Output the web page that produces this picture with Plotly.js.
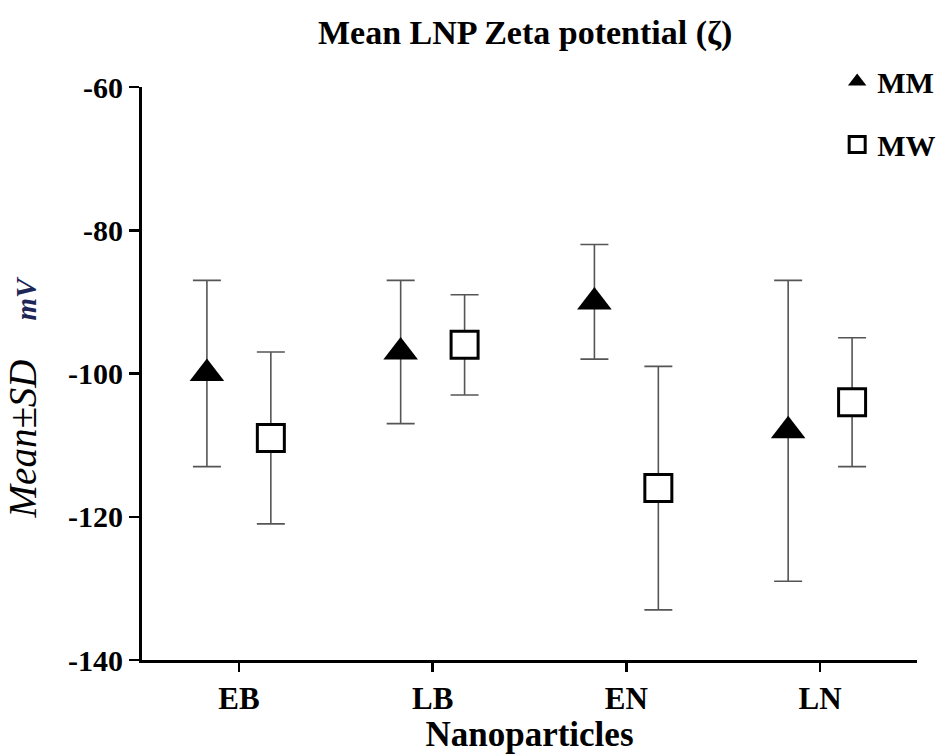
<!DOCTYPE html>
<html>
<head>
<meta charset="utf-8">
<script src="https://cdn.plot.ly/plotly-3.0.1.min.js"></script>
<style>html,body{margin:0;padding:0;background:#fff;}#chart{width:948px;height:754px;}</style>
</head>
<body>
<div id="chart"></div>
<script>
const categories = ["EB", "LB", "EN", "LN"];
const mmMean = [-100, -97, -90, -108];
const mmSD = [13, 10, 8, 21];
const mwMean = [-109, -96, -116, -104];
const mwSD = [12, 7, 17, 9];
const yTicks = [-140, -120, -100, -80, -60];
const yTickText = ["-140", "-120", "-100", "-80", "-60"];

const font = "Liberation Serif, Times New Roman, serif";

const traces = [
  {
    type: "scatter", mode: "markers", name: "MM",
    x: categories, y: mmMean, offsetgroup: "MM", legendgroup: "MM",
    marker: {symbol: "triangle-up", size: 30, color: "#000", line: {width: 0}},
    error_y: {type: "data", array: mmSD, visible: true, color: "#555", thickness: 1.6, width: 14}
  },
  {
    type: "scatter", mode: "markers", name: "MW",
    x: categories, y: mwMean, offsetgroup: "MW", legendgroup: "MW",
    marker: {symbol: "square", size: 27, color: "#fff", line: {width: 3, color: "#000"}},
    error_y: {type: "data", array: mwSD, visible: true, color: "#555", thickness: 1.6, width: 14}
  }
];

const layout = {
  width: 948, height: 754,
  margin: {l: 142, r: 31, t: 87, b: 94, autoexpand: false},
  paper_bgcolor: "#fff", plot_bgcolor: "#fff",
  font: {family: font, color: "#000", size: 30},
  scattermode: "group", scattergap: 0.34,
  showlegend: true,
  title: {text: "<b>Mean LNP Zeta potential (ζ)</b>", x: 0.554, xanchor: "center", y: 0.957, yanchor: "middle",
          font: {family: font, size: 34, color: "#000"}},
  xaxis: {
    type: "category", range: [-0.5, 3.5],
    showline: true, linewidth: 3, linecolor: "#000",
    ticks: "outside", ticklen: 9, tickwidth: 2.5, tickcolor: "#000",
    showgrid: false, zeroline: false,
    tickfont: {family: font, size: 31, color: "#000", weight: "bold"},
    title: {text: "<b>Nanoparticles</b>", font: {family: font, size: 35, color: "#000"}, standoff: 2}
  },
  yaxis: {
    range: [-140, -60], tickvals: yTicks, ticktext: yTickText,
    showline: true, linewidth: 3, linecolor: "#000",
    ticks: "outside", ticklen: 10, tickwidth: 2.5, tickcolor: "#000",
    showgrid: false, zeroline: false,
    tickfont: {family: font, size: 30, color: "#000", weight: "bold"}
  },
  legend: {
    x: 0.897, xanchor: "left", y: 1.055, yanchor: "top",
    font: {family: font, size: 30, color: "#000", weight: "bold"},
    tracegroupgap: 21, bgcolor: "rgba(0,0,0,0)", itemsizing: "trace"
  },
  annotations: [
    {
      text: "<i><span style='font-size:39px'>Mean±SD&nbsp;&nbsp;&nbsp;&nbsp;</span></i><b><i><span style='color:#1c2658'>mV</span></i></b>",
      xref: "paper", yref: "paper", x: -0.153, y: 0.459,
      xanchor: "center", yanchor: "middle", textangle: -90, showarrow: false,
      font: {family: font, size: 29, color: "#000"}
    }
  ]
};

Plotly.newPlot("chart", traces, layout, {displayModeBar: false, staticPlot: true});
</script>
</body>
</html>
